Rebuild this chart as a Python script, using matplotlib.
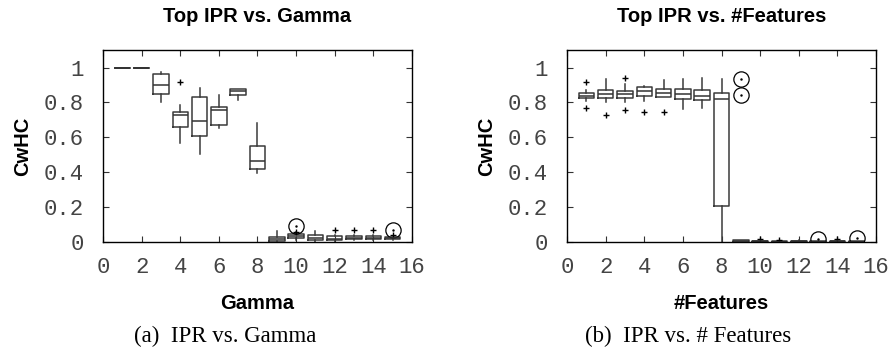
import matplotlib
matplotlib.use('Agg')
import matplotlib.pyplot as plt

# Left panel: CwHC vs. Gamma
GAMMA = list(range(1, 16))
G_Q1 = [1.0, 1.0, 0.848, 0.658, 0.605, 0.670, 0.844, 0.419, 0.006, 0.025, 0.013, 0.010, 0.017, 0.015, 0.019]
G_MED = [1.0, 1.0, 0.899, 0.729, 0.693, 0.755, 0.863, 0.467, 0.015, 0.035, 0.025, 0.020, 0.025, 0.025, 0.022]
G_Q3 = [1.0, 1.0, 0.962, 0.748, 0.831, 0.776, 0.875, 0.548, 0.027, 0.044, 0.040, 0.032, 0.032, 0.032, 0.027]
G_LO = [1.0, 1.0, 0.805, 0.569, 0.507, 0.655, 0.812, 0.397, 0.0, 0.010, 0.0, 0.0, 0.010, 0.010, 0.012]
G_HI = [1.0, 1.0, 0.975, 0.786, 0.882, 0.844, 0.880, 0.681, 0.061, 0.060, 0.065, 0.040, 0.040, 0.040, 0.030]
G_PLUS = [[], [], [], [0.917], [], [], [], [], [], [0.055], [], [0.068], [0.068], [0.068], [0.038]]
G_CIRCLE = [[], [], [], [], [], [], [], [], [], [0.089], [], [], [], [], [0.070]]

# Right panel: CwHC vs. #Features
FEATURES = list(range(1, 16))
F_Q1 = [0.824, 0.825, 0.827, 0.837, 0.833, 0.820, 0.814, 0.207, 0.0, 0.0, 0.0, 0.0, 0.0, 0.0, 0.0]
F_MED = [0.839, 0.848, 0.846, 0.865, 0.856, 0.848, 0.839, 0.822, 0.005, 0.003, 0.002, 0.004, 0.002, 0.004, 0.002]
F_Q3 = [0.852, 0.871, 0.867, 0.888, 0.880, 0.880, 0.871, 0.852, 0.010, 0.006, 0.004, 0.008, 0.004, 0.008, 0.004]
F_LO = [0.810, 0.800, 0.803, 0.806, 0.829, 0.763, 0.770, 0.0, 0.0, 0.0, 0.0, 0.0, 0.0, 0.0, 0.0]
F_HI = [0.871, 0.935, 0.905, 0.894, 0.928, 0.935, 0.939, 0.935, 0.012, 0.008, 0.006, 0.010, 0.006, 0.010, 0.006]
F_PLUS = [[0.917, 0.767], [0.729], [0.943, 0.757], [0.744], [0.744], [], [], [], [], [0.015], [0.012], [], [], [0.020], []]
F_CIRCLE = [[], [], [], [], [], [], [], [], [0.935, 0.841], [], [], [], [0.015], [], [0.025]]

TICK_FONT = 'Liberation Mono'
SANS = 'Liberation Sans'
SERIF = 'Liberation Serif'


def make_stats(q1, med, q3, lo, hi, plus):
    stats = []
    for i in range(len(q1)):
        stats.append({'q1': q1[i], 'med': med[i], 'q3': q3[i],
                      'whislo': lo[i], 'whishi': hi[i], 'fliers': plus[i]})
    return stats


def draw_panel(ax, pos, q1, med, q3, lo, hi, plus, circles, title, xlabel):
    stats = make_stats(q1, med, q3, lo, hi, plus)
    ax.bxp(stats, positions=pos, widths=0.8, showcaps=False,
           boxprops=dict(color='#3a3a3a', linewidth=1.1),
           whiskerprops=dict(color='#3a3a3a', linewidth=1.1, linestyle='-'),
           medianprops=dict(color='#333333', linewidth=1.1),
           flierprops=dict(marker='+', markeredgecolor='black', markersize=5,
                           markeredgewidth=1.0, linestyle='none'),
           manage_ticks=False)
    for x, vals in zip(pos, circles):
        for v in vals:
            ax.plot(x, v, marker='o', markersize=11, markerfacecolor='none',
                    markeredgecolor='black', markeredgewidth=0.9, linestyle='none')
            ax.plot(x, v, marker='.', markersize=1.5, color='black', linestyle='none')

    ax.set_xlim(0, 16)
    ax.set_ylim(0, 1.1)
    ax.set_xticks(range(0, 17, 2))
    ax.set_yticks([0, 0.2, 0.4, 0.6, 0.8, 1.0])
    ax.set_yticklabels(['0', '0.2', '0.4', '0.6', '0.8', '1'])
    ax.tick_params(direction='in', top=True, right=True, length=4, width=0.8,
                   labelsize=16, colors='#333333')
    ax.tick_params(axis='x', pad=11)
    ax.tick_params(axis='y', pad=14)
    for lab in ax.get_xticklabels() + ax.get_yticklabels():
        lab.set_family(TICK_FONT)
        lab.set_color('#444444')
    for sp in ax.spines.values():
        sp.set_linewidth(1.0)
    ax.set_title(title, fontsize=14.5, fontweight='bold', family=SANS, pad=20)
    ax.set_xlabel(xlabel, fontsize=14.5, fontweight='bold', family=SANS, labelpad=11)
    ax.set_ylabel('CwHC', fontsize=14.5, fontweight='bold', family=SANS, labelpad=8)


fig = plt.figure(figsize=(8.91, 3.56), dpi=100)
ax1 = fig.add_axes([0.1156, 0.3202, 0.3468, 0.539])
ax2 = fig.add_axes([0.6364, 0.3202, 0.3468, 0.539])

draw_panel(ax1, GAMMA, G_Q1, G_MED, G_Q3, G_LO, G_HI, G_PLUS, G_CIRCLE,
           'Top IPR vs. Gamma', 'Gamma')
draw_panel(ax2, FEATURES, F_Q1, F_MED, F_Q3, F_LO, F_HI, F_PLUS, F_CIRCLE,
           'Top IPR vs. #Features', '#Features')

fig.text(0.2525, 0.040, '(a)  IPR vs. Gamma', ha='center', fontsize=16.5, family=SERIF)
fig.text(0.7720, 0.040, '(b)  IPR vs. # Features', ha='center', fontsize=16.5, family=SERIF)

fig.savefig('out.png', dpi=100)
